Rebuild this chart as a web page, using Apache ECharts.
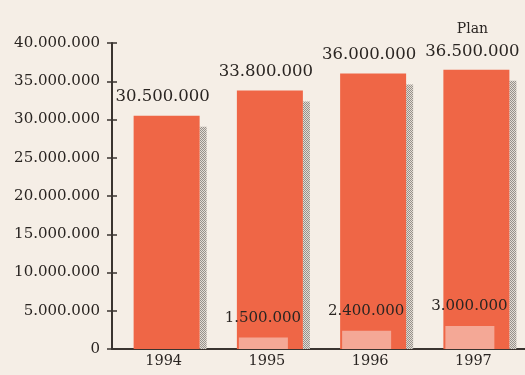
<!DOCTYPE html>
<html><head><meta charset="utf-8">
<script src="https://cdn.jsdelivr.net/npm/echarts@6/dist/echarts.min.js"></script>
<style>html,body{margin:0;padding:0;background:#f5eee6;}#c{width:525px;height:375px;}</style>
</head><body><div id="c"></div>
<script>
var years = ['1994', '1995', '1996', '1997'];
var totals = [30500000, 33800000, 36000000, 36500000];
var parts = [0, 1500000, 2400000, 3000000];
var notes = ['', '', '', 'Plan'];
var yTicks = [0, 5000000, 10000000, 15000000, 20000000, 25000000, 30000000, 35000000, 40000000];

function fmt(v) { return String(v).replace(/\B(?=(\d{3})+(?!\d))/g, '.'); }

var pc = document.createElement('canvas');
pc.width = 2; pc.height = 2;
var pctx = pc.getContext('2d');
pctx.fillStyle = '#e2dcd4'; pctx.fillRect(0, 0, 2, 2);
pctx.fillStyle = '#97918b'; pctx.fillRect(0, 0, 1, 1); pctx.fillRect(1, 1, 1, 1);

var FONT = '"DejaVu Serif", serif';
var TXT = '#2a2522';
var chart = echarts.init(document.getElementById('c'));
chart.setOption({
  backgroundColor: '#f5eee6',
  animation: false,
  grid: { left: 112, right: -3, top: 43, bottom: 26 },
  xAxis: {
    type: 'category', data: years,
    axisLine: { lineStyle: { color: '#3a3430', width: 2 } },
    axisTick: { inside: true, length: 6, lineStyle: { color: '#3a3430', width: 1.5 } },
    axisLabel: { color: TXT, fontFamily: FONT, fontSize: 14.5, margin: 5 }
  },
  yAxis: [{
    type: 'value', min: yTicks[0], max: yTicks[yTicks.length - 1], interval: yTicks[1] - yTicks[0],
    splitLine: { show: false },
    axisLine: { show: true, lineStyle: { color: '#3a3430', width: 2 } },
    axisTick: { show: true, length: 5, lineStyle: { color: '#3a3430', width: 1.5 } },
    axisLabel: { color: TXT, fontFamily: FONT, fontSize: 15, margin: 12, formatter: function (v) { return fmt(v); } }
  }, {
    type: 'value', min: yTicks[0], max: yTicks[yTicks.length - 1], interval: yTicks[1] - yTicks[0],
    position: 'left', splitLine: { show: false },
    axisLine: { show: false },
    axisTick: { show: true, inside: true, length: 5, lineStyle: { color: '#3a3430', width: 1.5 } },
    axisLabel: { show: false }
  }],
  series: [{
    type: 'custom',
    data: years.map(function (y, i) { return [i, totals[i], parts[i]]; }),
    renderItem: function (params, api) {
      var i = api.value(0);
      var top = api.coord([i, api.value(1)]);
      var base = api.coord([i, 0]);
      var inner = api.coord([i, api.value(2)]);
      var cx = top[0] + 3;
      var w = 66;
      var x0 = cx - w / 2;
      var children = [
        { type: 'rect', shape: { x: x0 + w, y: top[1] + 11, width: 7, height: base[1] - top[1] - 11 },
          style: { fill: { image: pc, repeat: 'repeat' } } },
        { type: 'rect', shape: { x: x0, y: top[1], width: w, height: base[1] - top[1] },
          style: { fill: '#ef6646' } },
        { type: 'text', x: cx - 4, y: top[1] - 10,
          style: { text: fmt(api.value(1)), font: '16.5px ' + FONT, fill: TXT, align: 'center', verticalAlign: 'bottom' } }
      ];
      if (notes[i]) {
        children.push({ type: 'text', x: cx - 4, y: top[1] - 33,
          style: { text: notes[i], font: '14px ' + FONT, fill: TXT, align: 'center', verticalAlign: 'bottom' } });
      }
      if (api.value(2) > 0) {
        children.push({ type: 'rect', shape: { x: x0 + 2, y: inner[1], width: 49, height: base[1] - inner[1] },
          style: { fill: '#f4a896' } });
        children.push({ type: 'text', x: x0 + 26, y: inner[1] - 12,
          style: { text: fmt(api.value(2)), font: '15px ' + FONT, fill: TXT, align: 'center', verticalAlign: 'bottom' } });
      }
      return { type: 'group', children: children };
    }
  }]
});
</script></body></html>
